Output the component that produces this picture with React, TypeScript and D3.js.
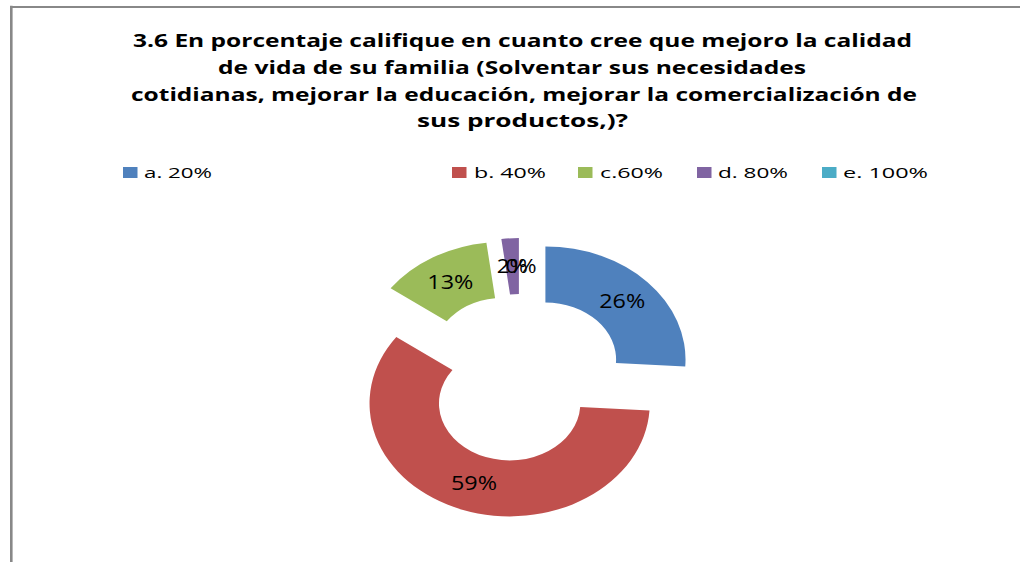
import React from "react";
import * as d3 from "d3";

// ---- data ----
const categories = ["a. 20%", "b. 40%", "c.60%", "d. 80%", "e. 100%"];
const values = [26, 59, 13, 2, 0];
const valueLabels = ["26%", "59%", "13%", "2%", "0%"];
const titleLines = [
  "3.6 En porcentaje califique en cuanto cree que mejoro la calidad",
  "de vida de su familia (Solventar sus necesidades",
  "cotidianas, mejorar la educación, mejorar la comercialización de",
  "sus productos,)?",
];

// ---- styles / layout ----
const colors = ["#4F81BD", "#C0504D", "#9BBB59", "#8064A2", "#4BACC6"];
const W = 1020;
const H = 562;
const aspect = 1.24; // horizontal stretch of the chart
const center = { x: 521, y: 378 };
const outerR = 113;
const innerR = 57;
const explode = 27;
const titleLayout = [
  { x: 133, w: 779 },
  { x: 218, w: 588 },
  { x: 131, w: 786 },
  { x: 417, w: 211 },
];
const titleBaseline0 = 47;
const titleLineGap = 26.8;
const legendLayout = [
  { x: 123, tx: 144, tw: 68 },
  { x: 452, tx: 474, tw: 72 },
  { x: 578, tx: 600, tw: 63 },
  { x: 697, tx: 718, tw: 70 },
  { x: 822, tx: 843, tw: 85 },
];
const labelWidth = (s: string) => (s.length >= 3 ? 46 : 31);
const font = "'Open Sans', 'DejaVu Sans', sans-serif";

export default function App() {
  const pie = d3
    .pie<number>()
    .sort(null)
    .value((d) => d)
    .startAngle(0)
    .endAngle(2 * Math.PI);
  const arcs = pie(values);
  const arc = d3
    .arc<d3.PieArcDatum<number>>()
    .innerRadius(innerR)
    .outerRadius(outerR);

  return (
    <svg
      width={W}
      height={H}
      style={{ position: "absolute", left: 0, top: 0, background: "#fff" }}
    >
      <rect x={0} y={0} width={W} height={H} fill="#fff" />
      {/* frame */}
      <line x1={11.3} y1={5.8} x2={11.3} y2={H + 5} stroke="#888" strokeWidth={2.6} />
      <line x1={10} y1={6.9} x2={W + 5} y2={6.9} stroke="#888" strokeWidth={2} />

      {/* title */}
      {titleLines.map((t, i) => (
        <text
          key={i}
          x={titleLayout[i].x}
          y={titleBaseline0 + i * titleLineGap}
          textLength={titleLayout[i].w}
          lengthAdjust="spacingAndGlyphs"
          fontFamily={font}
          fontWeight="bold"
          fontSize={18}
          fill="#000"
        >
          {t}
        </text>
      ))}

      {/* legend */}
      {categories.map((c, i) => (
        <g key={c}>
          <rect
            x={legendLayout[i].x}
            y={167}
            width={14.5}
            height={11}
            fill={colors[i]}
          />
          <text
            x={legendLayout[i].tx}
            y={178}
            textLength={legendLayout[i].tw}
            lengthAdjust="spacingAndGlyphs"
            fontFamily={font}
            fontSize={15}
            fill="#000"
          >
            {c}
          </text>
        </g>
      ))}

      {/* doughnut */}
      <g transform={`translate(${center.x},${center.y}) scale(${aspect},1)`}>
        {arcs.map((a, i) => {
          if (a.endAngle - a.startAngle <= 0) return null;
          const mid = (a.startAngle + a.endAngle) / 2;
          const ox = Math.sin(mid) * explode;
          const oy = -Math.cos(mid) * explode;
          return (
            <path
              key={i}
              d={arc(a) || ""}
              transform={`translate(${ox},${oy})`}
              fill={colors[i]}
            />
          );
        })}
      </g>

      {/* data labels */}
      {arcs.map((a, i) => {
        const mid = (a.startAngle + a.endAngle) / 2;
        const ox = Math.sin(mid) * explode;
        const oy = -Math.cos(mid) * explode;
        const [cxl, cyl] = arc.centroid(a);
        const x = center.x + aspect * (ox + cxl);
        const y = center.y + oy + cyl;
        const w = labelWidth(valueLabels[i]);
        return (
          <text
            key={"l" + i}
            x={x - w / 2}
            y={y + 7}
            textLength={w}
            lengthAdjust="spacingAndGlyphs"
            fontFamily={font}
            fontSize={19.5}
            fill="#000"
          >
            {valueLabels[i]}
          </text>
        );
      })}
    </svg>
  );
}
